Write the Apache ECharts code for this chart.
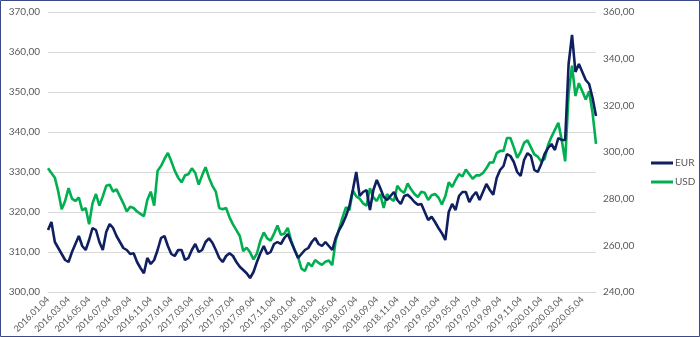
<!DOCTYPE html>
<html>
<head>
<meta charset="utf-8">
<script src="https://cdn.jsdelivr.net/npm/echarts@6/dist/echarts.min.js"></script>
<style>
html,body{margin:0;padding:0;background:#fff;}
#chart{width:700px;height:337px;}
</style>
</head>
<body>
<div id="chart"></div>
<script>
// Categories: three observations per month, 2016.01.04 .. 2020.06.14
const years = [2016, 2017, 2018, 2019, 2020];
const days = ['04', '14', '24'];
const categories = [];
for (const y of years) {
  for (let m = 1; m <= 12; m++) {
    for (const d of days) {
      if (y === 2020 && (m > 6 || (m === 6 && d === '24'))) continue;
      categories.push(y + '.' + String(m).padStart(2, '0') + '.' + d);
    }
  }
}

const leftTicks = [300, 310, 320, 330, 340, 350, 360, 370];
const rightTicks = [240, 260, 280, 300, 320, 340, 360];

const eur = [
  315.5, 317.5, 312.5, 311, 309.5, 308, 307.5, 310, 312, 314,
  311.5, 310.5, 313, 316, 315.5, 312.5, 310.5, 315, 317, 316,
  314, 312.5, 311, 310.5, 309.5, 309.7, 307.5, 306, 304.7, 308.5,
  307, 308, 310.5, 313.5, 314, 311.5, 309.5, 309, 310.5, 310.5,
  308, 308.5, 310.5, 312, 310, 310.5, 312.5, 313.4, 312.3, 310.5,
  308.5, 307.5, 309, 309.7, 309, 307.5, 306.3, 305.5, 304.7, 303.5,
  305, 307.5, 309.7, 311.5, 309.5, 310, 312, 312.5, 312, 313.5,
  314.5, 312.5, 310.5, 308.5, 309.5, 310.5, 311, 312.5, 313.5, 312,
  311.5, 312.5, 311.5, 310.5, 313.5, 315.5, 317, 319, 321.5, 325.5,
  330, 324, 325, 325.5, 320.5, 325.5, 328, 326, 323.8, 323,
  324, 325, 323, 322, 324, 324.3, 323.5, 322.5, 321.8, 322,
  320, 318, 318.8, 317.5, 316, 314.7, 313, 320, 322, 320.5,
  324, 325, 325, 322.5, 324, 325, 323, 325, 327, 325.5,
  324.3, 328.5, 330.5, 331.5, 334.5, 334, 332.5, 330, 329, 333,
  334.7, 334, 330.5, 330, 332, 334.5, 336, 337, 335.5, 338.5,
  338, 338, 357, 364.3, 355, 357, 355, 353, 352, 348.5,
  344
];

const usd = [
  293, 291, 289, 283, 275.5, 279, 284.5, 280, 279, 280.5,
  275, 276, 269, 278, 282, 277, 281, 285.5, 286, 283,
  284, 281, 278, 274.5, 276.5, 276, 274.5, 273.5, 272.5, 279.4,
  283, 277, 292, 294, 297, 299.6, 296, 292, 289, 287,
  290, 290.5, 293, 291, 286, 290, 293.5, 289, 285.5, 283,
  276, 275.5, 276, 272, 269, 266.5, 264, 257.5, 259, 257,
  254, 256.5, 262, 265.5, 263, 262, 265, 268.5, 264.5, 265,
  267.5, 262, 258, 255, 250, 249, 252.5, 251, 253.7, 252.5,
  251.6, 253, 253.5, 251.5, 262, 267, 272, 276.4, 275, 283.5,
  281, 280, 278, 277, 284.5, 280.5, 279, 282, 276, 282,
  280, 279, 285.5, 283.5, 282.5, 286.5, 284, 282, 280.7, 283,
  282.5, 279.4, 281.5, 282, 280.5, 277.5, 281, 287, 285, 288,
  290.5, 289.5, 292.5, 290.5, 288.5, 290, 290, 291, 293, 295.5,
  295.5, 299.5, 300.5, 300.5, 306, 306, 302, 297.5, 300, 303.9,
  305, 302, 299, 298, 296, 297, 303, 306.5, 309.5, 312.5,
  305, 296, 325, 337, 324, 329.5, 326, 322.5, 326, 316.7,
  303.5
];

const fmt = v => v.toFixed(2).replace('.', ',');
const FONT = 'Lato';

const chart = echarts.init(document.getElementById('chart'), null, {renderer: 'canvas'});
chart.setOption({
  animation: false,
  backgroundColor: '#ffffff',
  textStyle: {fontFamily: FONT},
  graphic: [{
    type: 'rect',
    shape: {x: 0.5, y: 0.5, width: 699, height: 336},
    style: {fill: 'none', stroke: '#3b4a86', lineWidth: 1},
    silent: true
  }],
  grid: {left: 48, right: 104, top: 12, bottom: 45, containLabel: false},
  legend: {
    orient: 'vertical',
    left: 646,
    top: 153,
    itemWidth: 22,
    itemHeight: 3,
    itemGap: 9,
    icon: 'rect',
    textStyle: {color: '#595959', fontSize: 10, fontFamily: FONT, padding: [0, 0, 0, -3]},
    data: ['EUR', 'USD']
  },
  xAxis: {
    type: 'category',
    data: categories,
    boundaryGap: false,
    axisLine: {show: true, lineStyle: {color: '#d9d9d9'}},
    axisTick: {show: false},
    splitLine: {show: false},
    axisLabel: {
      interval: 5,
      rotate: 45,
      color: '#595959',
      fontSize: 9,
      fontFamily: FONT,
      margin: 6
    }
  },
  yAxis: [{
    type: 'value',
    min: leftTicks[0],
    max: leftTicks[leftTicks.length - 1],
    interval: 10,
    position: 'left',
    axisLine: {show: false},
    axisTick: {show: false},
    splitLine: {show: true, lineStyle: {color: '#d9d9d9', width: 1}},
    axisLabel: {color: '#595959', fontSize: 10, fontFamily: FONT, margin: 8, formatter: fmt}
  }, {
    type: 'value',
    min: rightTicks[0],
    max: rightTicks[rightTicks.length - 1],
    interval: 20,
    position: 'right',
    axisLine: {show: false},
    axisTick: {show: false},
    splitLine: {show: false},
    axisLabel: {color: '#595959', fontSize: 10, fontFamily: FONT, margin: 7, formatter: fmt}
  }],
  series: [{
    name: 'EUR',
    type: 'line',
    yAxisIndex: 0,
    data: eur,
    showSymbol: false,
    symbol: 'none',
    lineStyle: {color: '#0f1f5f', width: 2.6},
    itemStyle: {color: '#0f1f5f'},
    z: 3
  }, {
    name: 'USD',
    type: 'line',
    yAxisIndex: 1,
    data: usd,
    showSymbol: false,
    symbol: 'none',
    lineStyle: {color: '#00b050', width: 2.6},
    itemStyle: {color: '#00b050'},
    z: 2
  }]
});
</script>
</body>
</html>
